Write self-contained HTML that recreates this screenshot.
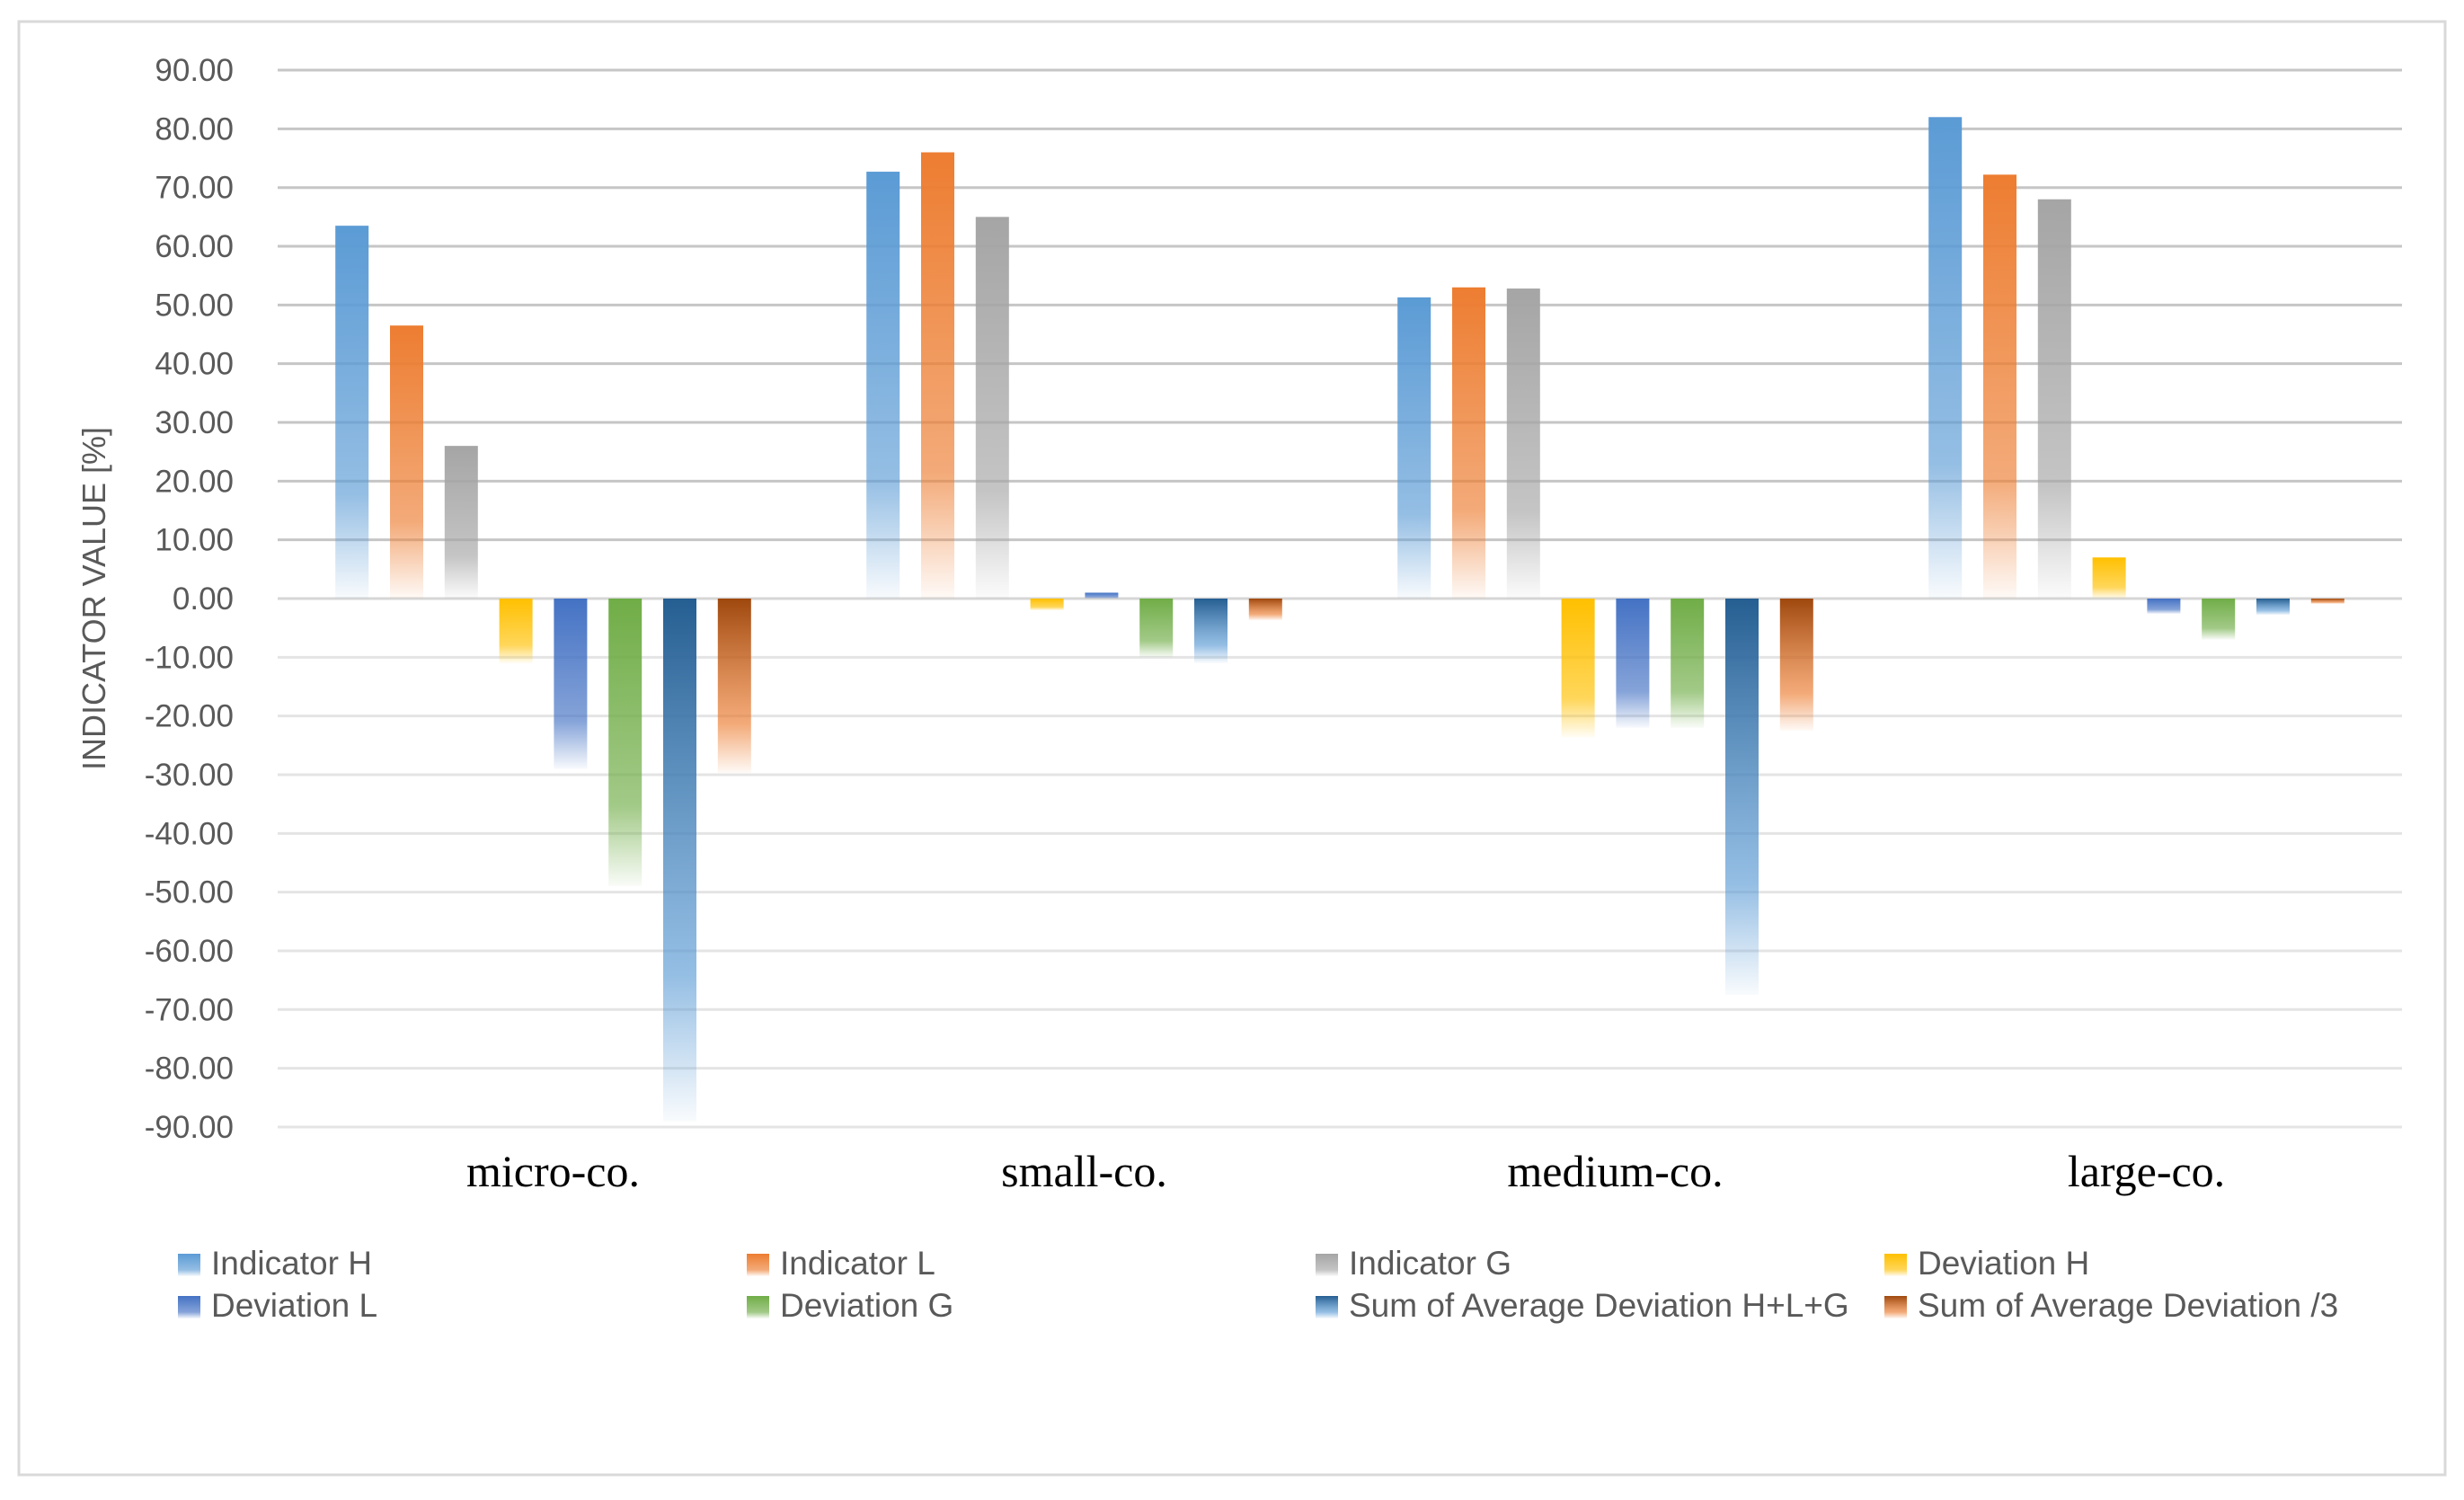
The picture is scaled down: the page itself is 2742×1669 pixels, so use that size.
<!DOCTYPE html>
<html><head><meta charset="utf-8"><style>
html,body{margin:0;padding:0;background:#fff;}
svg{display:block;font-family:"Liberation Sans",sans-serif;}
</style></head><body>
<svg id="chart" width="2742" height="1669" viewBox="0 0 2742 1669" xmlns="http://www.w3.org/2000/svg">
<defs id="defs"></defs>
<rect x="21" y="24" width="2700" height="1617" fill="#fff" stroke="#d9d9d9" stroke-width="3"/>
<g id="grid"></g><g id="bars"></g><g id="labels"></g><g id="legend"></g>
<text x="0" y="0" transform="translate(117,666) rotate(-90)" text-anchor="middle" font-size="36" fill="#595959">INDICATOR VALUE [%]</text>
</svg>
<script>
const categories = ["micro-co.", "small-co.", "medium-co.", "large-co."];
const seriesNames = ["Indicator H","Indicator L","Indicator G","Deviation H","Deviation L","Deviation G","Sum of Average Deviation H+L+G","Sum of Average Deviation /3"];
const indicatorH = [63.5, 72.7, 51.3, 82.0];
const indicatorL = [46.5, 76.0, 53.0, 72.2];
const indicatorG = [26.0, 65.0, 52.8, 68.0];
const deviationH = [-11.0, -2.0, -23.6, 7.0];
const deviationL = [-29.0, 1.0, -22.0, -2.6];
const deviationG = [-49.0, -10.0, -22.0, -7.0];
const sumDev = [-89.0, -11.0, -67.5, -2.8];
const sumDev3 = [-29.7, -3.7, -22.5, -0.9];
const yTicks = [90,80,70,60,50,40,30,20,10,0,-10,-20,-30,-40,-50,-60,-70,-80,-90];

const series = [indicatorH, indicatorL, indicatorG, deviationH, deviationL, deviationG, sumDev, sumDev3];
const colors = [["#5b9bd5","#5b9bd5"],["#ed7d31","#ed7d31"],["#a5a5a5","#a5a5a5"],["#ffc000","#ffc000"],["#4472c4","#4472c4"],["#70ad47","#70ad47"],["#255e91","#5b9bd5"],["#9e480e","#ed7d31"]];
const NS = "http://www.w3.org/2000/svg";
const plotL = 309, plotR = 2673, zeroY = 666, perUnit = 6.533;
function yScale(v){ return zeroY - v * perUnit; }
const catW = (plotR - plotL) / categories.length;
function xCat(i){ return plotL + catW * (i + 0.5); }
const barW = 37, barStep = 60.8;
function mk(tag, attrs, parent){ const e = document.createElementNS(NS, tag); for (const k in attrs) e.setAttribute(k, attrs[k]); parent.appendChild(e); return e; }
const defs = document.getElementById('defs');
colors.forEach((c, s) => {
  const g = mk('linearGradient', {id: 'g' + s, x1: 0, y1: 0, x2: 0, y2: 1}, defs);
  mk('stop', {offset: '0', 'stop-color': c[0]}, g);
  mk('stop', {offset: '0.72', 'stop-color': c[1], 'stop-opacity': '0.65'}, g);
  mk('stop', {offset: '1', 'stop-color': c[1], 'stop-opacity': '0.04'}, g);
});
const grid = document.getElementById('grid'), labels = document.getElementById('labels');
yTicks.forEach(t => {
  const y = yScale(t);
  const ln = mk('line', {x1: plotL, x2: plotR, y1: y, y2: y, stroke: t > 0 ? '#c6c6c6' : (t === 0 ? '#d6d6d6' : '#e4e4e4'), 'stroke-width': 3}, grid);
  
  
  const tx = mk('text', {x: 260, y: y + 12, 'text-anchor': 'end', 'font-size': 35, fill: '#595959'}, labels);
  tx.textContent = t.toFixed(2);
  
  
});
const bars = document.getElementById('bars');
categories.forEach((cat, i) => {
  const cx = xCat(i);
  series.forEach((arr, s) => {
    const v = arr[i];
    const x = cx - 3.5 * barStep - barW / 2 + s * barStep;
    const y0 = yScale(Math.max(v, 0)), y1 = yScale(Math.min(v, 0));
    const r = mk('rect', {x: x, y: y0, width: barW, height: Math.max(y1 - y0, 0.5), fill: 'url(#g' + s + ')'}, bars);
    
    
  });
  const t = mk('text', {x: cx + 11, y: 1320, 'text-anchor': 'middle', 'font-size': 50, fill: '#000', 'font-family': '"Liberation Serif", serif'}, labels);
  t.textContent = cat;
  
  
});
const legend = document.getElementById('legend');
const legX = [198, 831, 1464, 2097], legY = [1418, 1465];
seriesNames.forEach((n, s) => {
  const x = legX[s % 4], y = legY[Math.floor(s / 4)];
  const g = mk('g', {}, legend);
  
  
  mk('rect', {x: x, y: y - 23, width: 25, height: 25, fill: 'url(#g' + s + ')'}, g);
  const t = mk('text', {x: x + 37, y: y, 'font-size': 37, fill: '#595959'}, g);
  t.textContent = n;
});
</script>
</body></html>
